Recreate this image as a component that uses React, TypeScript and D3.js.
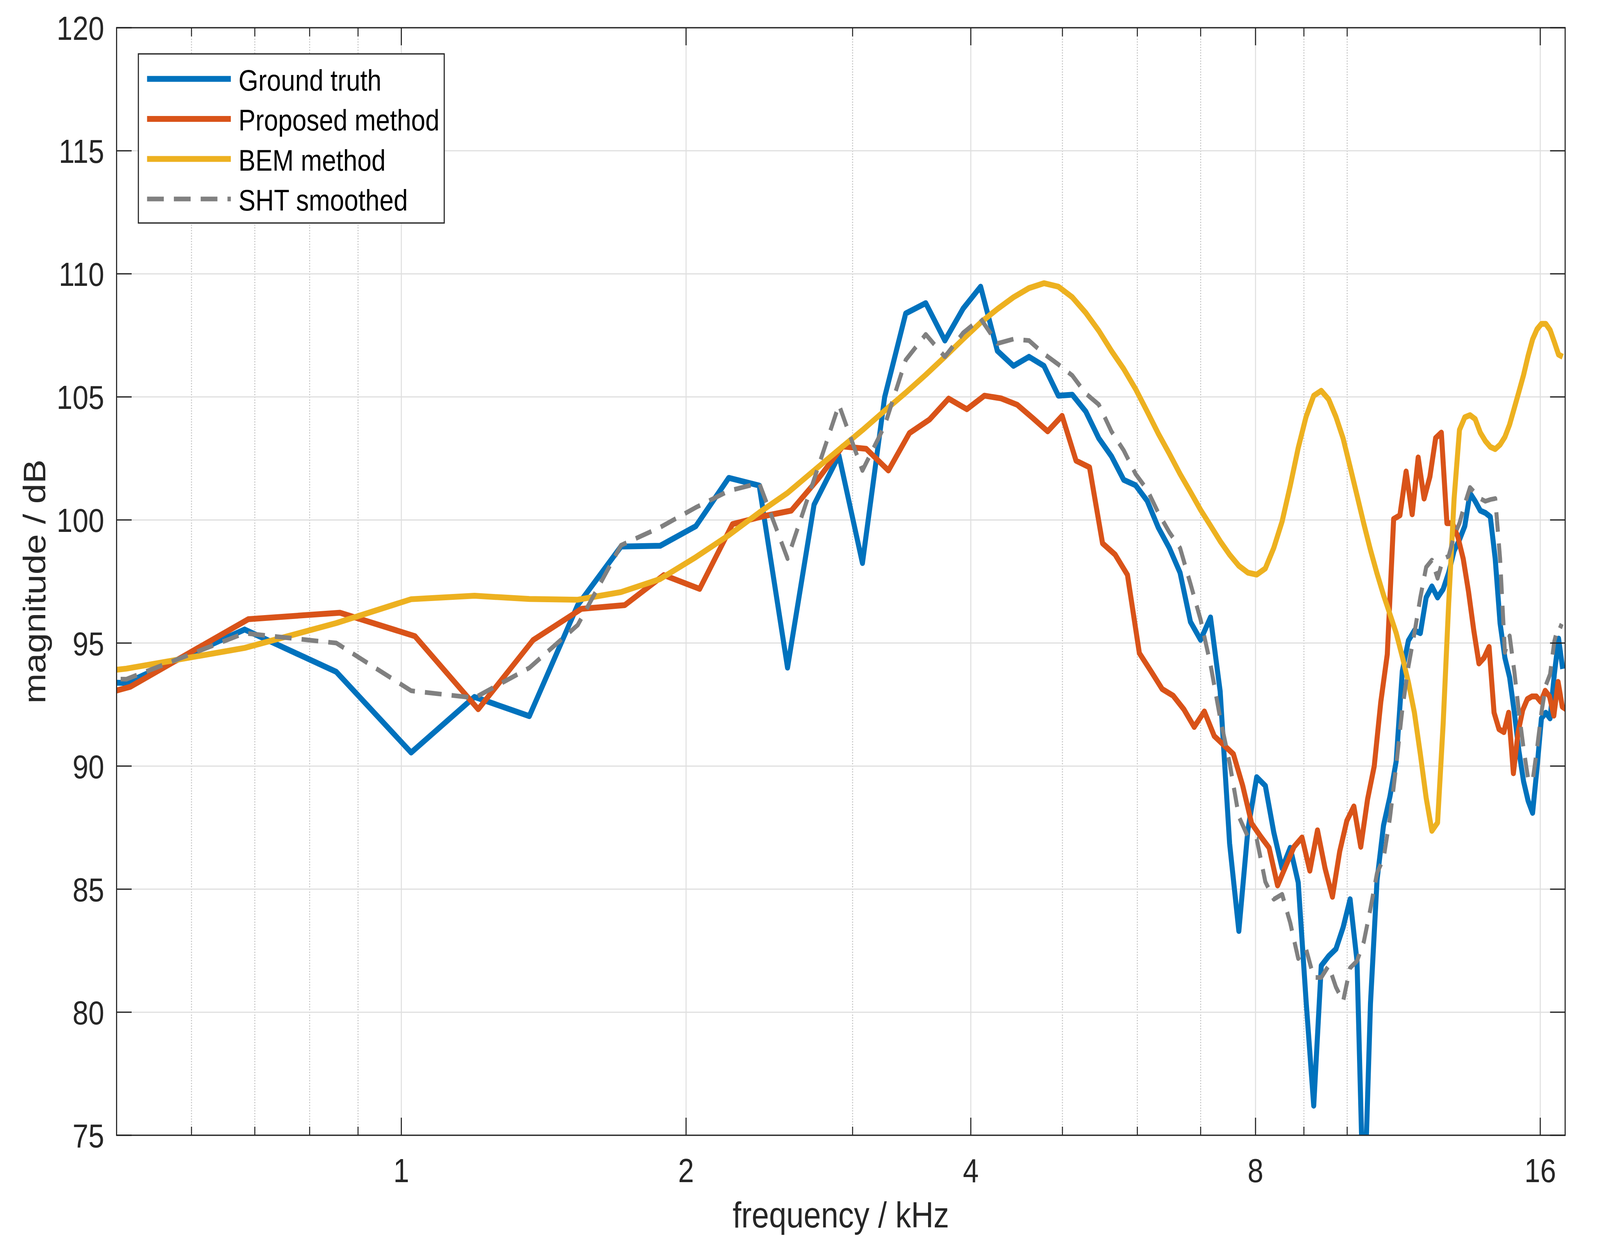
import * as d3 from 'd3';

const W = 4776;
const H = 3188;
const plot = { left: 348, right: 4672, top: 71, bottom: 2907 };

// frequency axis (kHz, log2) and magnitude axis (dB)
const xDomain: [number, number] = [0.5, 17];
const yDomain: [number, number] = [75, 120];
const xMajorTicks = [1, 2, 4, 8, 16];
const xMinorTicks = [0.6, 0.7, 0.8, 0.9, 3, 5, 6, 7, 9, 10];
const yTicks = [75, 80, 85, 90, 95, 100, 105, 110, 115, 120];

// spectra are sampled on FFT bins starting at bin 2
const FIRST_BIN = 2;
const BIN_KHZ_REF = 0.1707;   // ground truth, BEM, SHT smoothed
const BIN_KHZ_PROP = 0.17227; // proposed method

const groundTruth = [
  93.5, 93.38, 95.55, 93.83, 90.55, 92.81, 92.03, 96.54, 98.92, 98.95,
  99.75, 101.71, 101.4, 94.0, 100.62, 102.62, 98.25, 104.99, 108.39, 108.81,
  107.29, 108.59, 109.48, 106.87, 106.26, 106.63, 106.26, 105.05, 105.09, 104.41,
  103.32, 102.59, 101.63, 101.41, 100.78, 99.68, 98.86, 97.86, 95.86, 95.13,
  96.04, 93.04, 86.86, 83.3, 87.4, 89.55, 89.2, 87.3, 85.85, 86.68,
  85.27, 80.48, 76.2, 81.89, 82.28, 82.57, 83.44, 84.59, 82.08, 71.5,
  80.35, 85.37, 87.59, 88.75, 90.19, 93.86, 95.1, 95.51, 95.4, 96.85,
  97.3, 96.85, 97.19, 97.86, 98.75, 99.2, 99.75, 101.09, 100.76, 100.38,
  100.29, 100.13, 98.42, 95.8, 94.4, 93.6, 92.17, 90.6, 89.38, 88.59,
  88.1, 89.93, 91.94, 92.17, 91.94, 93.73, 95.18, 93.95,
];

const proposed = [
  91.4, 93.22, 95.97, 96.23, 95.28, 92.31, 95.12, 96.39, 96.54, 97.76,
  97.2, 99.83, 100.15, 100.38, 101.65, 102.99, 102.89, 102.01, 103.53, 104.08,
  104.93, 104.5, 105.05, 104.94, 104.68, 104.14, 103.6, 104.23, 102.41, 102.14,
  99.05, 98.59, 97.77, 94.59, 93.86, 93.13, 92.86, 92.31, 91.59, 92.22,
  91.22, 90.85, 90.49, 89.22, 87.67, 87.15, 86.68, 85.15, 85.95, 86.72,
  87.1, 85.75, 87.39, 85.85, 84.69, 86.53, 87.78, 88.36, 86.72, 88.65,
  90.0, 92.61, 94.54, 100.04, 100.19, 101.97, 100.23, 102.54, 100.87, 101.76,
  103.33, 103.55, 99.87, 99.87, 99.31, 98.42, 97.08, 95.51, 94.17, 94.4,
  94.84, 92.17, 91.5, 91.38, 92.17, 89.71, 91.38, 92.28, 92.72, 92.83,
  92.83, 92.61, 93.06, 92.83, 92.05, 93.42, 92.41, 92.3,
];

const bem = [
  93.2, 93.96, 94.8, 95.81, 96.78, 96.92, 96.79, 96.76, 97.07, 97.6,
  98.49, 99.38, 100.3, 101.1, 102.01, 102.86, 103.65, 104.44, 105.17, 105.9,
  106.63, 107.35, 108.02, 108.57, 109.05, 109.42, 109.62, 109.48, 109.05, 108.42,
  107.69, 106.87, 106.14, 105.32, 104.41, 103.5, 102.69, 101.87, 101.14, 100.41,
  99.77, 99.14, 98.59, 98.14, 97.86, 97.78, 98.03, 98.87, 99.94, 101.39,
  102.93, 104.19, 105.05, 105.25, 104.9, 104.19, 103.32, 102.16, 101.0, 99.85,
  98.78, 97.82, 96.95, 96.18, 95.41, 94.44, 93.4, 92.17, 90.49, 88.71,
  87.37, 87.7, 91.72, 96.6, 100.87, 103.66, 104.17, 104.26, 104.1, 103.55,
  103.21, 102.97, 102.88, 103.06, 103.37, 103.88, 104.55, 105.22, 105.89, 106.67,
  107.34, 107.75, 107.97, 107.97, 107.72, 107.23, 106.72, 106.63,
];

const shtSmoothed = [
  93.6, 93.53, 95.4, 95.0, 93.06, 92.77, 93.99, 95.73, 98.97, 99.7,
  100.51, 101.18, 101.5, 98.43, 101.65, 104.68, 102.01, 103.83, 106.5, 107.54,
  106.63, 107.6, 108.18, 107.17, 107.35, 107.29, 106.75, 106.32, 105.87, 105.14,
  104.69, 103.6, 102.83, 101.87, 101.23, 100.28, 99.5, 98.86, 97.41, 95.95,
  94.13, 91.95, 90.13, 87.95, 87.13, 87.04, 85.3, 84.59, 84.79, 83.63,
  82.18, 82.57, 81.41, 81.41, 81.89, 81.02, 80.44, 81.8, 82.08, 82.86,
  84.21, 85.66, 86.24, 87.88, 90.0, 92.32, 94.05, 95.4, 96.85, 98.08,
  98.37, 97.63, 98.42, 98.53, 99.35, 99.87, 100.65, 101.32, 101.09, 100.87,
  100.76, 100.83, 100.87, 98.42, 94.62, 95.29, 93.84, 92.17, 90.71, 89.49,
  89.38, 90.71, 92.17, 93.28, 93.73, 95.07, 95.74, 95.65,
];

const seriesNames = ['Ground truth', 'Proposed method', 'BEM method', 'SHT smoothed'];
const seriesColors = ['#0072BD', '#D95319', '#EDB120', '#808080'];

const FONT = "'Liberation Sans', Arial, Helvetica, sans-serif";
const AXIS_COLOR = '#262626';

export default function App() {
  const x = d3.scaleLog().base(2).domain(xDomain).range([plot.left, plot.right]);
  const y = d3.scaleLinear().domain(yDomain).range([plot.bottom, plot.top]);

  const toPoints = (vals: number[], df: number): [number, number][] =>
    vals.map((v, i) => [(FIRST_BIN + i) * df, v]);

  const series = [
    { name: seriesNames[0], color: seriesColors[0], pts: toPoints(groundTruth, BIN_KHZ_REF), width: 15, dash: undefined },
    { name: seriesNames[1], color: seriesColors[1], pts: toPoints(proposed, BIN_KHZ_PROP), width: 15, dash: undefined },
    { name: seriesNames[2], color: seriesColors[2], pts: toPoints(bem, BIN_KHZ_REF), width: 15, dash: undefined },
    { name: seriesNames[3], color: seriesColors[3], pts: toPoints(shtSmoothed, BIN_KHZ_REF), width: 12, dash: '50,30' },
  ];

  const line = d3.line<[number, number]>().x(d => x(d[0])).y(d => y(d[1]));

  const majorLen = 45;
  const minorLen = 22;

  // legend layout
  const lg = { x: 413, y: 138, w: 913, h: 433, lineX1: 439, lineX2: 689, textX: 712, row0: 202, rowStep: 102.5 };

  return (
    <svg viewBox={`0 0 ${W} ${H}`} preserveAspectRatio="none"
      style={{ position: 'fixed', left: 0, top: 0, width: '100vw', height: '100vh', display: 'block', background: '#fff' }}>
      <defs>
        <clipPath id="plotClip">
          <rect x={plot.left} y={plot.top} width={plot.right - plot.left} height={plot.bottom - plot.top} />
        </clipPath>
      </defs>
      <rect x={0} y={0} width={W} height={H} fill="#fff" />

      {/* minor grid */}
      {xMinorTicks.map(t => (
        <line key={'mg' + t} x1={x(t)} x2={x(t)} y1={plot.top} y2={plot.bottom}
          stroke="#c4c4c4" strokeWidth={3} strokeDasharray="3,4" />
      ))}
      {/* major grid */}
      {xMajorTicks.map(t => (
        <line key={'gx' + t} x1={x(t)} x2={x(t)} y1={plot.top} y2={plot.bottom}
          stroke="#dfdfdf" strokeWidth={3} />
      ))}
      {yTicks.map(t => (
        <line key={'gy' + t} x1={plot.left} x2={plot.right} y1={y(t)} y2={y(t)}
          stroke="#dfdfdf" strokeWidth={3} />
      ))}

      {/* data */}
      <g clipPath="url(#plotClip)">
        {series.map(s => (
          <path key={s.name} d={line(s.pts) ?? ''} fill="none" stroke={s.color}
            strokeWidth={s.width} strokeLinejoin="round" strokeDasharray={s.dash} />
        ))}
      </g>

      {/* axes box */}
      <rect x={plot.left} y={plot.top} width={plot.right - plot.left} height={plot.bottom - plot.top}
        fill="none" stroke={AXIS_COLOR} strokeWidth={3.3} />

      {/* x ticks */}
      {xMajorTicks.map(t => (
        <g key={'xt' + t}>
          <line x1={x(t)} x2={x(t)} y1={plot.bottom} y2={plot.bottom - majorLen} stroke={AXIS_COLOR} strokeWidth={3.3} />
          <line x1={x(t)} x2={x(t)} y1={plot.top} y2={plot.top + majorLen} stroke={AXIS_COLOR} strokeWidth={3.3} />
          <text x={x(t)} y={3027} textAnchor="middle" fontFamily={FONT} fontSize={85} fill={AXIS_COLOR}>{t}</text>
        </g>
      ))}
      {xMinorTicks.map(t => (
        <g key={'xm' + t}>
          <line x1={x(t)} x2={x(t)} y1={plot.bottom} y2={plot.bottom - minorLen} stroke={AXIS_COLOR} strokeWidth={3} />
          <line x1={x(t)} x2={x(t)} y1={plot.top} y2={plot.top + minorLen} stroke={AXIS_COLOR} strokeWidth={3} />
        </g>
      ))}

      {/* y ticks */}
      {yTicks.map(t => (
        <g key={'yt' + t}>
          <line x1={plot.left} x2={plot.left + majorLen} y1={y(t)} y2={y(t)} stroke={AXIS_COLOR} strokeWidth={3.3} />
          <line x1={plot.right} x2={plot.right - majorLen} y1={y(t)} y2={y(t)} stroke={AXIS_COLOR} strokeWidth={3.3} />
          <text x={311} y={y(t) + 31} textAnchor="end" fontFamily={FONT} fontSize={85} fill={AXIS_COLOR}>{t}</text>
        </g>
      ))}

      {/* axis labels */}
      <text x={(plot.left + plot.right) / 2} y={3143} textAnchor="middle" fontFamily={FONT} fontSize={93} fill={AXIS_COLOR}>
        frequency / kHz
      </text>
      <text transform={`translate(135,${(plot.top + plot.bottom) / 2}) rotate(-90)`} textAnchor="middle"
        fontFamily={FONT} fontSize={93} fill={AXIS_COLOR}>
        magnitude / dB
      </text>

      {/* legend */}
      <rect x={lg.x} y={lg.y} width={lg.w} height={lg.h} fill="#fff" stroke={AXIS_COLOR} strokeWidth={3.3} />
      {series.map((s, i) => {
        const ry = lg.row0 + i * lg.rowStep;
        return (
          <g key={'lg' + s.name}>
            <line x1={lg.lineX1} x2={lg.lineX2} y1={ry} y2={ry} stroke={s.color}
              strokeWidth={s.width} strokeDasharray={s.dash} />
            <text x={lg.textX} y={ry + 30} fontFamily={FONT} fontSize={76} fill="#000">{s.name}</text>
          </g>
        );
      })}
    </svg>
  );
}
